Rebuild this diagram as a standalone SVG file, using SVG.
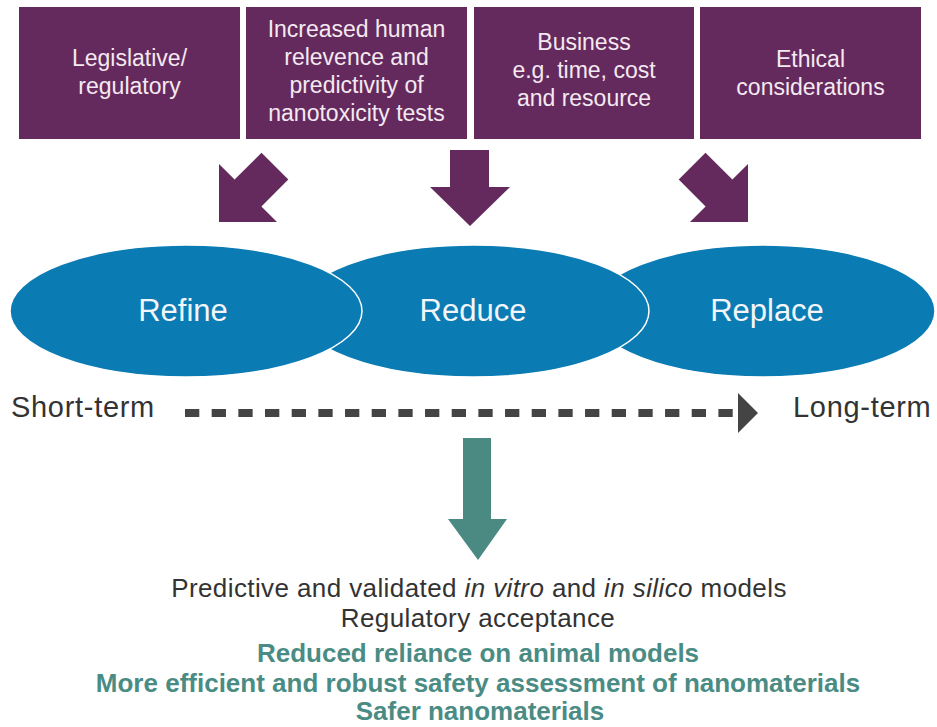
<svg xmlns="http://www.w3.org/2000/svg" width="937" height="727" viewBox="0 0 937 727">
  <style>
    .box { fill: #652a5d; }
    .btxt { font-family: "Liberation Sans", Arial, sans-serif; font-size: 23px; fill: #f4e9f1; text-anchor: middle; }
    .ell { fill: #0b7bb3; stroke: #ffffff; stroke-width: 1.5; }
    .etxt { font-family: "Liberation Sans", Arial, sans-serif; font-size: 31px; fill: #f2f6fa; text-anchor: middle; }
    .term { font-family: "Liberation Sans", Arial, sans-serif; font-size: 29px; letter-spacing: 0.7px; fill: #333333; }
    .out { font-family: "Liberation Sans", Arial, sans-serif; font-size: 26px; letter-spacing: 0.4px; fill: #333333; text-anchor: middle; }
    .outg { font-family: "Liberation Sans", Arial, sans-serif; font-size: 26px; font-weight: bold; fill: #4a8c84; text-anchor: middle; }
    .parrow { fill: #652a5d; }
    .tarrow { fill: #4b8a82; }
  </style>
  <rect width="937" height="727" fill="#ffffff"/>

  <g id="box-legislative">
    <rect class="box" x="19" y="7" width="221" height="132"/>
    <text class="btxt" x="129.5" y="66">Legislative/</text>
    <text class="btxt" x="129.5" y="94">regulatory</text>
  </g>
  <g id="box-human-relevance">
    <rect class="box" x="246" y="7" width="221" height="132"/>
    <text class="btxt" x="356.5" y="37">Increased human</text>
    <text class="btxt" x="356.5" y="65">relevence and</text>
    <text class="btxt" x="356.5" y="93">predictivity of</text>
    <text class="btxt" x="356.5" y="121">nanotoxicity tests</text>
  </g>
  <g id="box-business">
    <rect class="box" x="474" y="7" width="220" height="132"/>
    <text class="btxt" x="584" y="50">Business</text>
    <text class="btxt" x="584" y="78">e.g. time, cost</text>
    <text class="btxt" x="584" y="106">and resource</text>
  </g>
  <g id="box-ethical">
    <rect class="box" x="700" y="7" width="221" height="132"/>
    <text class="btxt" x="810.5" y="67">Ethical</text>
    <text class="btxt" x="810.5" y="95">considerations</text>
  </g>

  <g id="node-replace">
    <ellipse class="ell" cx="763" cy="311" rx="172" ry="66"/>
    <text class="etxt" x="767" y="321">Replace</text>
  </g>
  <g id="node-reduce">
    <ellipse class="ell" cx="473" cy="311" rx="176" ry="66"/>
    <text class="etxt" x="473" y="321">Reduce</text>
  </g>
  <g id="node-refine">
    <ellipse class="ell" cx="186" cy="311" rx="176" ry="66"/>
    <text class="etxt" x="183" y="321">Refine</text>
  </g>

  <g id="label-short-term">
    <text class="term" x="11" y="417">Short-term</text>
  </g>
  <g id="label-long-term">
    <text class="term" x="793" y="417">Long-term</text>
  </g>

  <g id="connectors">
    <polygon class="parrow" points="219,164 219,222 277,222 261.4,206.4 288.3,179.5 261.5,152.7 234.6,179.6"/>
    <polygon class="parrow" points="450,150 489,150 489,187 510,187 470,226 430,187 450,187"/>
    <polygon class="parrow" points="748,164 748,222 690,222 705.6,206.4 678.7,179.5 705.5,152.7 732.4,179.6"/>
    <line x1="185" y1="413" x2="734" y2="413" stroke="#444444" stroke-width="8" stroke-dasharray="14.3 12.37"/>
    <polygon points="738,393 738,433 758,413" fill="#444444"/>
    <polygon class="tarrow" points="463,438 491,438 491,519 507,519 478,560 448,519 463,519"/>
  </g>

  <g id="outcomes">
    <text class="out" x="479" y="597">Predictive and validated <tspan font-style="italic">in vitro</tspan> and <tspan font-style="italic">in silico</tspan> models</text>
    <text class="out" x="478" y="627">Regulatory acceptance</text>
    <text class="outg" x="478" y="662">Reduced reliance on animal models</text>
    <text class="outg" x="478" y="692">More efficient and robust safety assessment of nanomaterials</text>
    <text class="outg" x="480" y="720">Safer nanomaterials</text>
  </g>
</svg>
